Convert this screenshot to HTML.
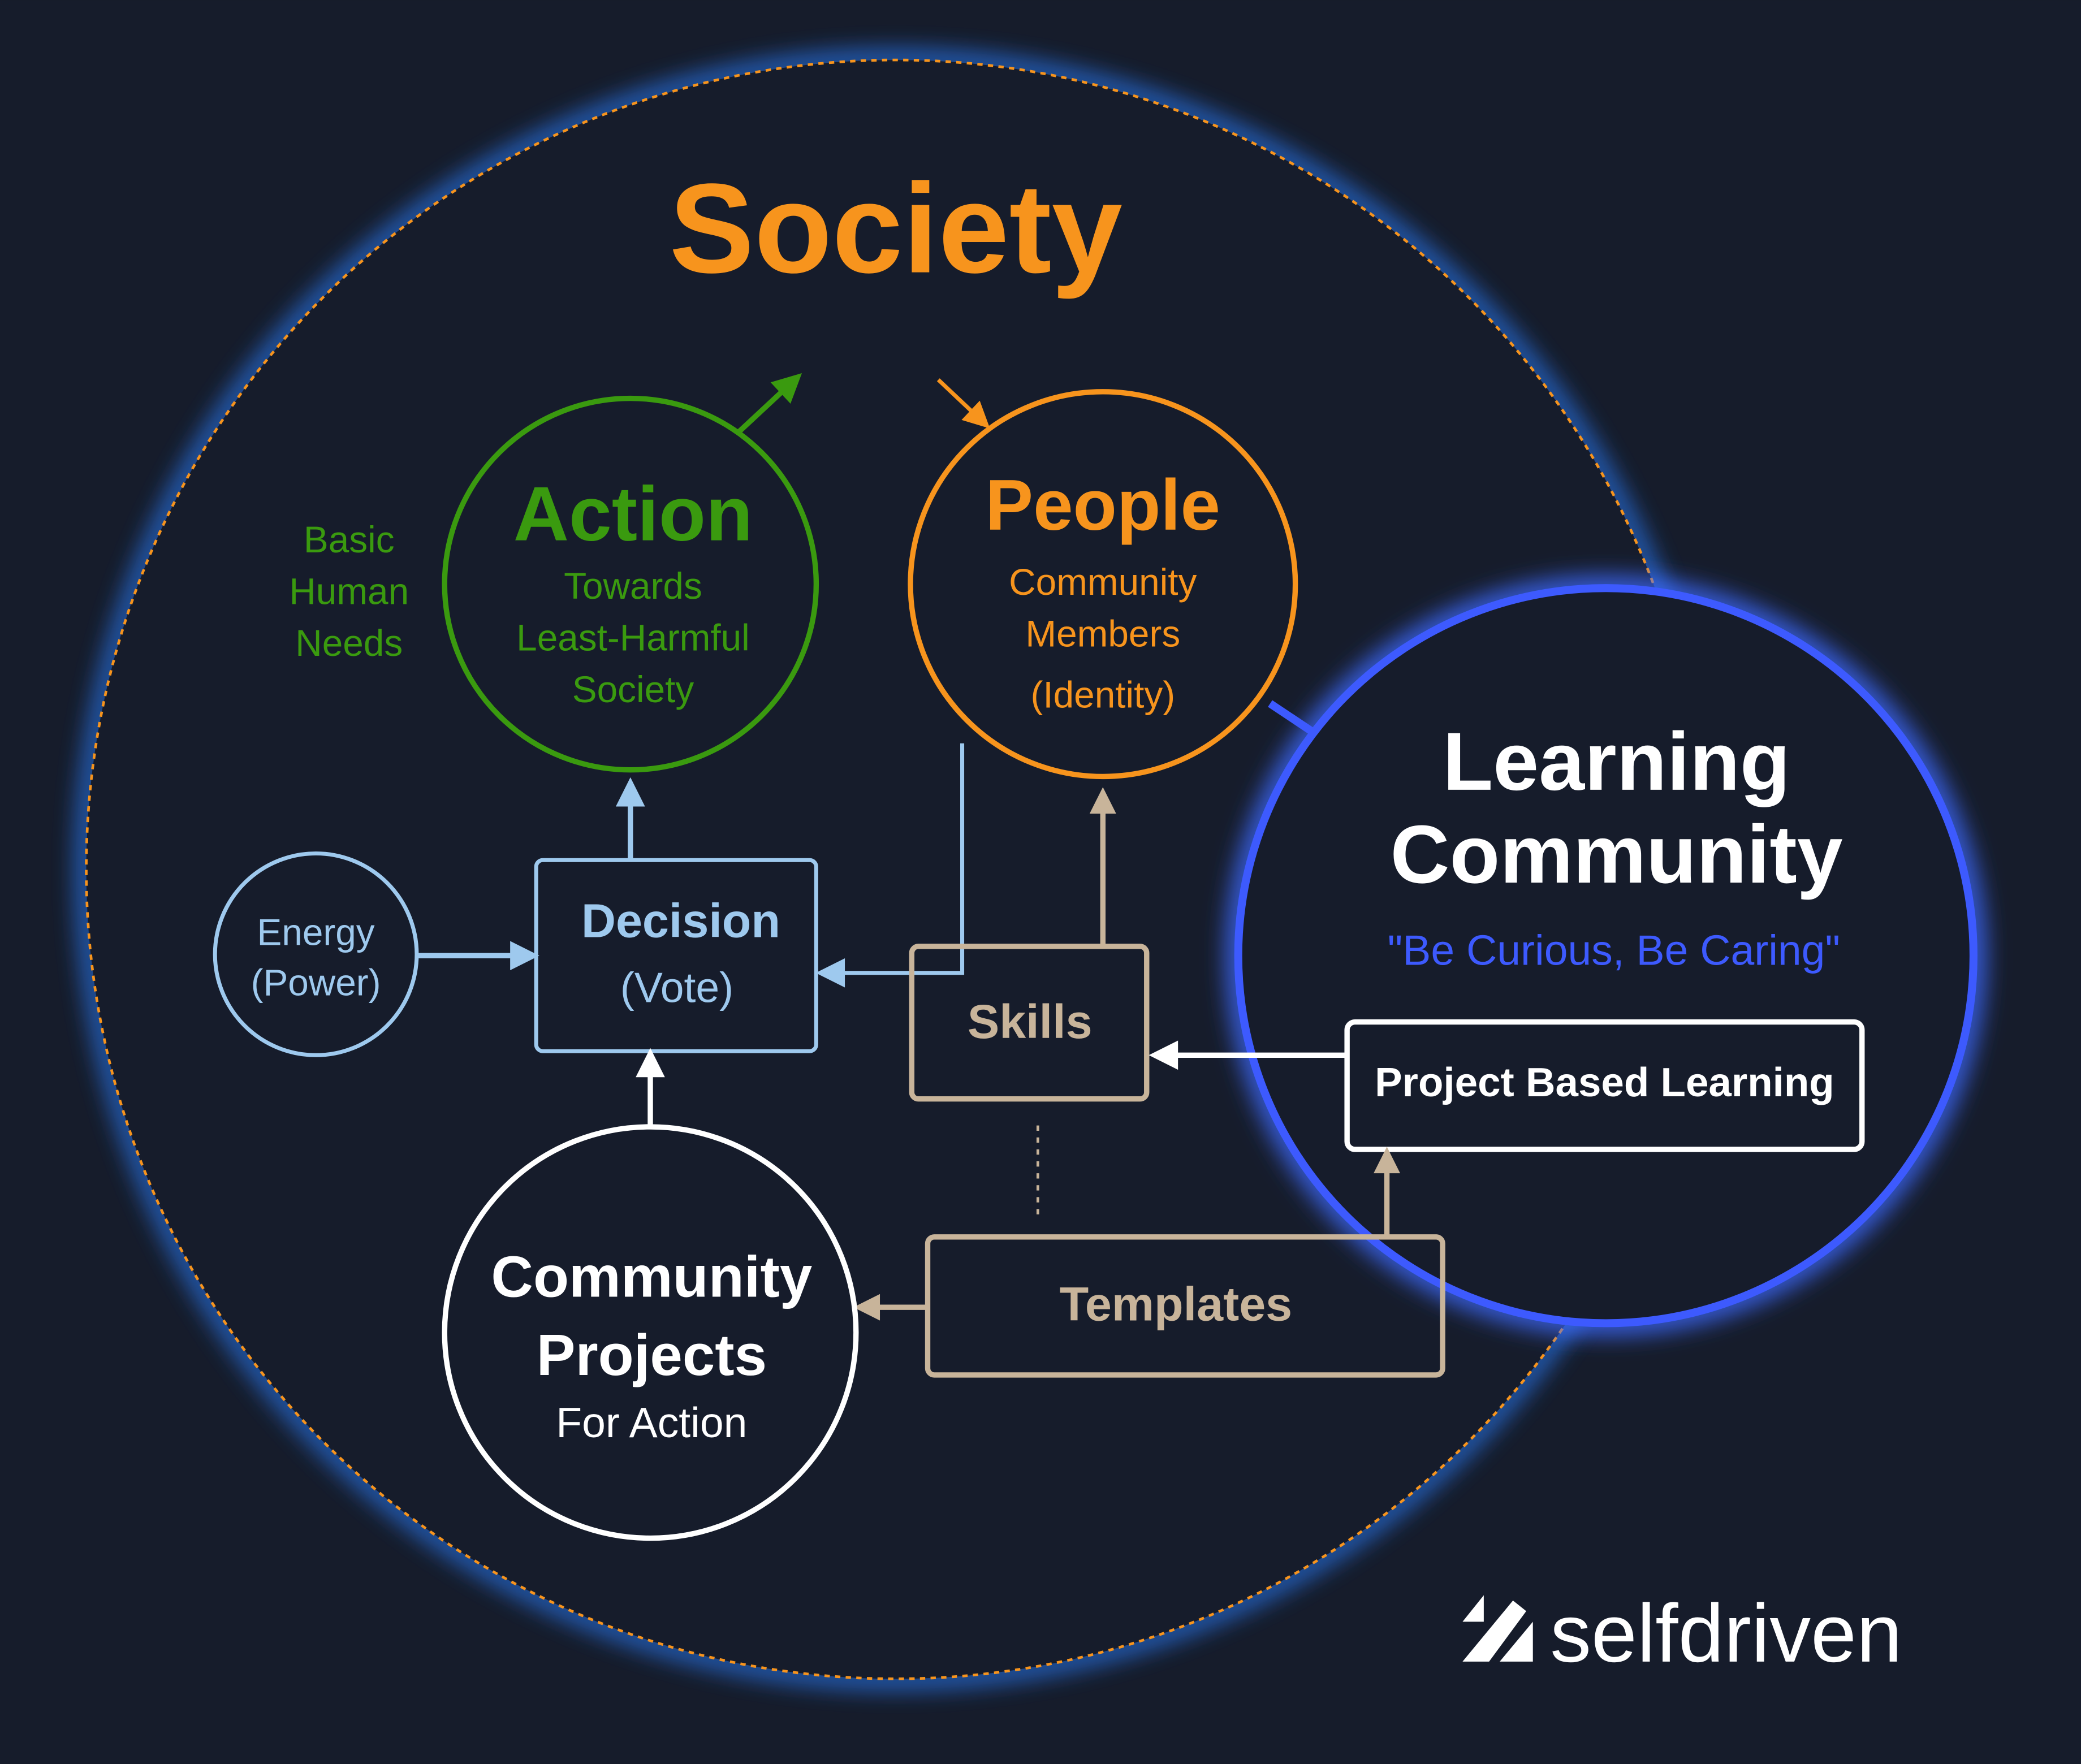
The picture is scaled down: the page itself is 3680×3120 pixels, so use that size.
<!DOCTYPE html>
<html><head><meta charset="utf-8"><style>
html,body{margin:0;padding:0;background:#161c2b;}
svg{display:block}
text{font-family:"Liberation Sans",sans-serif;}
</style></head><body>
<svg width="3680" height="3120" viewBox="0 0 1568 1329" xmlns="http://www.w3.org/2000/svg">
<defs>
<filter id="glow" x="-20%" y="-20%" width="140%" height="140%"><feGaussianBlur stdDeviation="9"/></filter>
<marker id="aw" markerWidth="10" markerHeight="10" refX="8" refY="5" orient="auto" markerUnits="userSpaceOnUse" viewBox="0 0 10 10"><path d="M0,0 L10,5 L0,10z" fill="#fff"/></marker>
<marker id="ab" viewBox="0 0 10 10" refX="8" refY="5" markerWidth="26" markerHeight="22" orient="auto" markerUnits="userSpaceOnUse"><path d="M0,0 L10,5 L0,10z" fill="#9ec9ee"/></marker>
<marker id="aw2" viewBox="0 0 10 10" refX="8" refY="5" markerWidth="26" markerHeight="22" orient="auto" markerUnits="userSpaceOnUse"><path d="M0,0 L10,5 L0,10z" fill="#fff"/></marker>
<marker id="at" viewBox="0 0 10 10" refX="8" refY="5" markerWidth="24" markerHeight="20" orient="auto" markerUnits="userSpaceOnUse"><path d="M0,0 L10,5 L0,10z" fill="#c8b49a"/></marker>
<marker id="ag" viewBox="0 0 10 10" refX="8" refY="5" markerWidth="24" markerHeight="22" orient="auto" markerUnits="userSpaceOnUse"><path d="M0,0 L10,5 L0,10z" fill="#3a9a0f"/></marker>
<marker id="ao" viewBox="0 0 10 10" refX="8" refY="5" markerWidth="22" markerHeight="20" orient="auto" markerUnits="userSpaceOnUse"><path d="M0,0 L10,5 L0,10z" fill="#f7941d"/></marker>
</defs>
<rect width="1568" height="1329" fill="#161c2b"/>
<!-- society glow -->
<circle cx="675" cy="655" r="610" fill="none" stroke="#2a7fff" stroke-width="14" filter="url(#glow)" opacity="0.8"/>
<circle cx="675" cy="655" r="610" fill="#161c2b"/>
<circle cx="675" cy="655" r="610" fill="none" stroke="#f7941d" stroke-width="2" stroke-dasharray="4,4"/>
<text x="675" y="205" text-anchor="middle" font-size="96" font-weight="bold" fill="#f7941d">Society</text>

<!-- Learning community -->
<circle cx="1210" cy="720" r="277" fill="none" stroke="#3d6aff" stroke-width="16" filter="url(#glow)"/>
<circle cx="1210" cy="720" r="277" fill="#161c2b" stroke="#3d5afe" stroke-width="6"/>
<line x1="957" y1="530" x2="990" y2="552" stroke="#3d5afe" stroke-width="6"/>
<text x="1218" y="595" text-anchor="middle" font-size="62" font-weight="bold" fill="#fff">Learning</text>
<text x="1218" y="665" text-anchor="middle" font-size="62" font-weight="bold" fill="#fff">Community</text>
<text x="1216" y="727" text-anchor="middle" font-size="32" fill="#3d5afe">"Be Curious, Be Caring"</text>
<rect x="1015" y="770" width="388" height="96" rx="6" fill="#161c2b" stroke="#fff" stroke-width="4"/>
<text x="1209" y="826" text-anchor="middle" font-size="31" font-weight="bold" fill="#fff">Project Based Learning</text>

<!-- Action -->
<circle cx="475" cy="440" r="140" fill="none" stroke="#3a9a0f" stroke-width="4"/>
<line x1="557" y1="325" x2="601" y2="284" stroke="#3a9a0f" stroke-width="4" marker-end="url(#ag)"/>
<text x="477" y="407" text-anchor="middle" font-size="58" font-weight="bold" fill="#3a9a0f">Action</text>
<text x="477" y="451" text-anchor="middle" font-size="28" fill="#3a9a0f">Towards</text>
<text x="477" y="490" text-anchor="middle" font-size="28" fill="#3a9a0f">Least-Harmful</text>
<text x="477" y="529" text-anchor="middle" font-size="28" fill="#3a9a0f">Society</text>
<text x="263" y="416" text-anchor="middle" font-size="28" fill="#3a9a0f">Basic</text>
<text x="263" y="455" text-anchor="middle" font-size="28" fill="#3a9a0f">Human</text>
<text x="263" y="494" text-anchor="middle" font-size="28" fill="#3a9a0f">Needs</text>

<!-- People -->
<circle cx="831" cy="440" r="145" fill="none" stroke="#f7941d" stroke-width="4"/>
<line x1="707" y1="286" x2="743" y2="320" stroke="#f7941d" stroke-width="3" marker-end="url(#ao)"/>
<text x="831" y="399" text-anchor="middle" font-size="54" font-weight="bold" fill="#f7941d">People</text>
<text x="831" y="448" text-anchor="middle" font-size="28" fill="#f7941d">Community</text>
<text x="831" y="487" text-anchor="middle" font-size="28" fill="#f7941d">Members</text>
<text x="831" y="533" text-anchor="middle" font-size="28" fill="#f7941d">(Identity)</text>

<!-- Energy -->
<circle cx="238" cy="719" r="76" fill="none" stroke="#9ec9ee" stroke-width="3"/>
<text x="238" y="712" text-anchor="middle" font-size="28" fill="#9ec9ee">Energy</text>
<text x="238" y="750" text-anchor="middle" font-size="28" fill="#9ec9ee">(Power)</text>
<line x1="315" y1="720" x2="402" y2="720" stroke="#9ec9ee" stroke-width="4" marker-end="url(#ab)"/>

<!-- Decision -->
<rect x="404" y="648" width="211" height="144" rx="5" fill="none" stroke="#9ec9ee" stroke-width="3"/>
<text x="513" y="706" text-anchor="middle" font-size="36" font-weight="bold" fill="#9ec9ee">Decision</text>
<text x="510" y="755" text-anchor="middle" font-size="32" fill="#9ec9ee">(Vote)</text>
<line x1="475" y1="648" x2="475" y2="590" stroke="#9ec9ee" stroke-width="4" marker-end="url(#ab)"/>
<polyline points="725,560 725,733 619,733" fill="none" stroke="#9ec9ee" stroke-width="3" marker-end="url(#ab)"/>

<!-- Skills -->
<rect x="687" y="713" width="177" height="115" rx="5" fill="none" stroke="#c8b49a" stroke-width="4"/>
<text x="776" y="782" text-anchor="middle" font-size="36" font-weight="bold" fill="#c8b49a">Skills</text>
<line x1="831" y1="713" x2="831" y2="597" stroke="#c8b49a" stroke-width="4" marker-end="url(#at)"/>
<line x1="1015" y1="795" x2="870" y2="795" stroke="#fff" stroke-width="4" marker-end="url(#aw2)"/>
<line x1="782" y1="848" x2="782" y2="918" stroke="#c8b49a" stroke-width="2" stroke-dasharray="4,5"/>

<!-- Templates -->
<rect x="699" y="932" width="388" height="104" rx="5" fill="none" stroke="#c8b49a" stroke-width="4"/>
<text x="886" y="995" text-anchor="middle" font-size="36" font-weight="bold" fill="#c8b49a">Templates</text>
<line x1="699" y1="985" x2="647" y2="985" stroke="#c8b49a" stroke-width="4" marker-end="url(#at)"/>
<line x1="1045" y1="932" x2="1045" y2="868" stroke="#c8b49a" stroke-width="4" marker-end="url(#at)"/>

<!-- Community Projects -->
<circle cx="490" cy="1004" r="155" fill="none" stroke="#fff" stroke-width="4"/>
<line x1="490" y1="848" x2="490" y2="794" stroke="#fff" stroke-width="4" marker-end="url(#aw2)"/>
<text x="491" y="977" text-anchor="middle" font-size="44" font-weight="bold" fill="#fff">Community</text>
<text x="491" y="1036" text-anchor="middle" font-size="44" font-weight="bold" fill="#fff">Projects</text>
<text x="491" y="1083" text-anchor="middle" font-size="32" fill="#fff">For Action</text>

<!-- logo -->
<path d="M1102,1222 L1118,1202 L1118,1222 Z M1102,1252 L1140,1206 L1150,1214 L1122,1252 Z M1130,1252 L1155,1222 L1155,1252 Z" fill="#fff"/>
<text x="1168" y="1252" font-size="62" fill="#fff">selfdriven</text>
</svg>
</body></html>
